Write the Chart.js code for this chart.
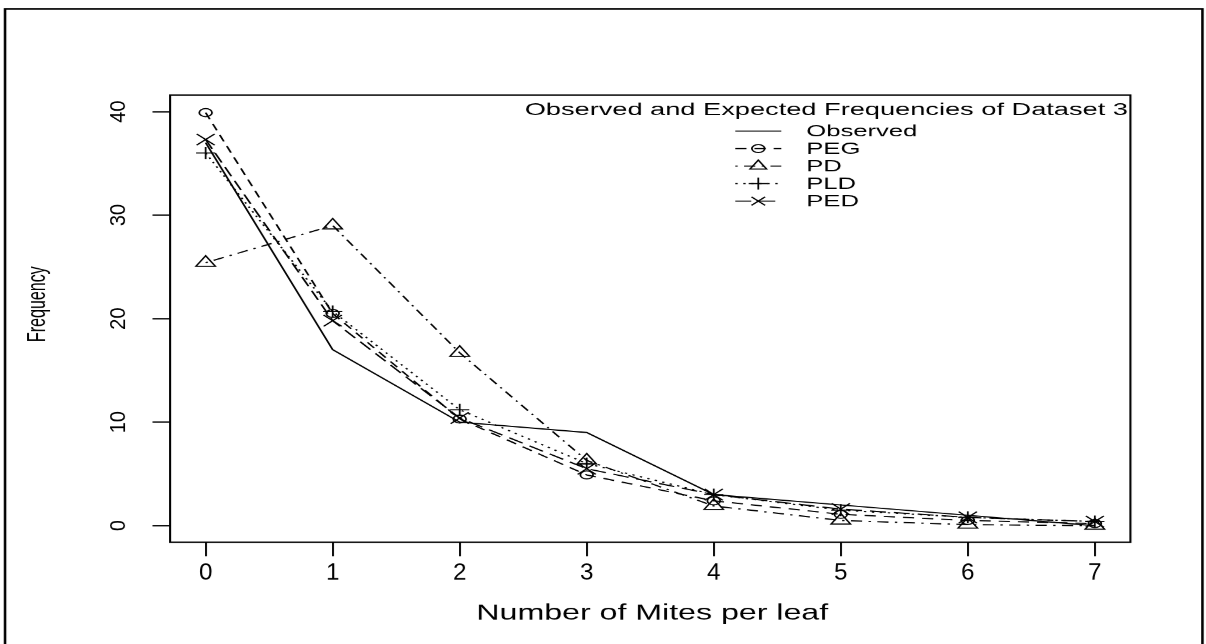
<!DOCTYPE html>
<html>
<head>
<meta charset="utf-8">
<title>Observed and Expected Frequencies of Dataset 3</title>
<script src="https://cdn.jsdelivr.net/npm/chart.js@4.4.1/dist/chart.umd.min.js"></script>
<style>
  html, body { margin: 0; padding: 0; background: #fff; overflow: hidden; }
  /* the source figure is stretched sideways, so the chart is drawn narrow and widened */
  #wrap {
    position: absolute; left: 0; top: 0;
    width: 754px; height: 644px;
    transform: scaleX(1.5995); transform-origin: 0 0;
  }
</style>
</head>
<body>
<div id="wrap"><canvas id="freqChart"></canvas></div>
<script>
// ==================== DATA =====================
const mites = [0, 1, 2, 3, 4, 5, 6, 7];
const observed = [37, 17, 10, 9, 3, 2, 1, 0];
const peg = [39.9, 20.5, 10.3, 4.9, 2.4, 1.1, 0.5, 0.2];
const pd = [25.4, 29.0, 16.7, 6.3, 1.9, 0.5, 0.1, 0.0];
const pld = [36.0, 20.7, 11.2, 6.0, 3.0, 1.5, 0.8, 0.4];
const ped = [37.3, 19.8, 10.4, 5.5, 3.0, 1.6, 0.8, 0.4];
const xTicks = [0, 1, 2, 3, 4, 5, 6, 7];
const yTicks = [0, 10, 20, 30, 40];
const legendTitle = "Observed and Expected Frequencies of Dataset 3";
const xTitle = "Number of Mites per leaf";
const yTitle = "Frequency";

// =============== LAYOUT (narrow canvas px) ================
const SX = 1206 / 754;
const W = 754, H = 644;
const plotLeft = 170 / SX;
const plotRight = 1130 / SX;
const plotTop = 95;
const plotBottom = 542;
const FONT = "'Liberation Sans', Arial, Helvetica, sans-serif";

function series(label, values, dash, style, radius) {
  return {
    label: label,
    data: mites.map((m, i) => ({ x: m, y: values[i] })),
    borderColor: "#000",
    borderWidth: 1.2,
    borderDash: dash,
    pointStyle: style,
    pointRadius: radius,
    pointBorderColor: "#000",
    pointBackgroundColor: "transparent",
    pointBorderWidth: 1.1,
    tension: 0,
    fill: false,
  };
}

// ============== MARKER (legend) ===============
function drawMarker(ctx, style, r, x, y) {
  ctx.beginPath();
  if (style === "circle") {
    ctx.arc(x, y, r, 0, Math.PI * 2);
  } else if (style === "triangle") {
    ctx.moveTo(x, y - r);
    ctx.lineTo(x + r * 0.866, y + r * 0.5);
    ctx.lineTo(x - r * 0.866, y + r * 0.5);
    ctx.closePath();
  } else if (style === "cross") {
    ctx.moveTo(x - r, y); ctx.lineTo(x + r, y);
    ctx.moveTo(x, y - r); ctx.lineTo(x, y + r);
  } else if (style === "crossRot") {
    const d = r * 0.707;
    ctx.moveTo(x - d, y - d); ctx.lineTo(x + d, y + d);
    ctx.moveTo(x - d, y + d); ctx.lineTo(x + d, y - d);
  }
  ctx.stroke();
}

// text drawn with its own sideways scale (k = final width factor)
function putText(ctx, text, x, y, k, angle) {
  ctx.save();
  ctx.translate(x, y);
  ctx.scale(k / SX, 1);
  if (angle) ctx.rotate(angle);
  ctx.fillText(text, 0, 0);
  ctx.restore();
}

// ============== PLUGIN: frames, axis text, legend ===============
const figurePlugin = {
  id: "figure",
  afterDraw(chart) {
    const ctx = chart.ctx;
    const a = chart.chartArea;
    const xScale = chart.scales.x;
    const yScale = chart.scales.y;
    ctx.save();
    ctx.strokeStyle = "#000";
    ctx.fillStyle = "#000";

    // outer figure frame
    ctx.lineWidth = 1.6;
    ctx.strokeRect(5 / SX, 9, 1197 / SX, 700);

    // plot box
    ctx.lineWidth = 1.3;
    ctx.strokeRect(a.left, a.top, a.right - a.left, a.bottom - a.top);

    ctx.textAlign = "center";
    ctx.textBaseline = "middle";

    // x tick labels
    ctx.font = "23px " + FONT;
    xScale.ticks.forEach((t) => {
      putText(ctx, String(t.value), xScale.getPixelForValue(t.value), 573, 1.05, 0);
    });

    // y tick labels, rotated like R
    ctx.font = "20px " + FONT;
    yScale.ticks.forEach((t) => {
      putText(ctx, String(t.value), 119 / SX, yScale.getPixelForValue(t.value), 1.1, -Math.PI / 2);
    });

    // axis titles
    ctx.font = "22px " + FONT;
    putText(ctx, xTitle, 652 / SX, 613, 1.46, 0);
    ctx.font = "16px " + FONT;
    putText(ctx, yTitle, 38 / SX, 304, 1.6, -Math.PI / 2);

    // legend
    ctx.font = "17px " + FONT;
    ctx.fillText(legendTitle, 826 / SX, 110);
    ctx.font = "16px " + FONT;
    ctx.textAlign = "left";
    const x0 = 735 / SX, x1 = 781 / SX, tx = 806 / SX;
    chart.data.datasets.forEach((ds, i) => {
      const ly = 131 + i * 17.5;
      ctx.lineWidth = 1.2;
      ctx.setLineDash(ds.borderDash || []);
      ctx.beginPath();
      ctx.moveTo(x0, ly);
      ctx.lineTo(x1, ly);
      ctx.stroke();
      ctx.setLineDash([]);
      if (ds.pointStyle && ds.pointRadius > 0) {
        ctx.lineWidth = 1.1;
        drawMarker(ctx, ds.pointStyle, Math.min(ds.pointRadius, 6), (x0 + x1) / 2, ly);
      }
      ctx.fillText(ds.label, tx, ly + 1);
    });
    ctx.restore();
  },
};

// ============== CHART ===============
const ctx = document.getElementById("freqChart").getContext("2d");
new Chart(ctx, {
  type: "line",
  data: {
    datasets: [
      series("Observed", observed, [], false, 0),
      series("PEG", peg, [7, 5], "circle", 4),
      series("PD", pd, [1.5, 4, 7, 4], "triangle", 7),
      series("PLD", pld, [1.5, 3.5], "cross", 6),
      series("PED", ped, [10, 5], "crossRot", 8),
    ],
  },
  options: {
    responsive: true,
    maintainAspectRatio: false,
    devicePixelRatio: 1.6,
    animation: false,
    events: [],
    layout: {
      padding: { left: 0, right: W - plotRight, top: plotTop, bottom: 0 },
    },
    plugins: {
      legend: { display: false },
      tooltip: { enabled: false },
    },
    scales: {
      x: {
        type: "linear",
        min: -0.28,
        max: 7.28,
        afterBuildTicks: (s) => { s.ticks = xTicks.map((v) => ({ value: v })); },
        afterFit: (s) => { s.height = H - plotBottom; },
        border: { display: false },
        grid: {
          drawOnChartArea: false,
          drawTicks: true,
          tickLength: 14,
          color: "#000",
          lineWidth: 1.2,
        },
        ticks: { display: false },
      },
      y: {
        min: -1.6,
        max: 41.6,
        afterBuildTicks: (s) => { s.ticks = yTicks.map((v) => ({ value: v })); },
        afterFit: (s) => { s.width = plotLeft; },
        border: { display: false },
        grid: {
          drawOnChartArea: false,
          drawTicks: true,
          tickLength: 11,
          color: "#000",
          lineWidth: 1.2,
        },
        ticks: { display: false },
      },
    },
  },
  plugins: [figurePlugin],
});
</script>
</body>
</html>
